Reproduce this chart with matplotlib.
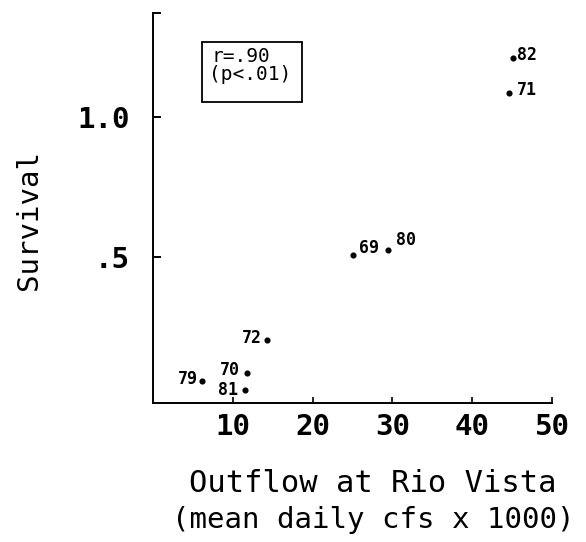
import matplotlib
matplotlib.use("Agg")
import matplotlib.pyplot as plt
from matplotlib.patches import Rectangle

# Outflow at Rio Vista (mean daily cfs x 1000) vs. survival, by year
years = ["69", "80", "82", "71", "72", "70", "79", "81"]
outflow = [25.0, 29.5, 45.1, 44.6, 14.25, 11.75, 6.1, 11.5]
survival = [0.507, 0.525, 1.211, 1.086, 0.204, 0.086, 0.057, 0.025]
# label side: +1 right of the point, -1 left of the point
label_side = [1, 1, 1, 1, -1, -1, -1, -1]

x_ticks = [10, 20, 30, 40, 50]
y_ticks = [0.5, 1.0]
y_tick_labels = [".5", "1.0"]

W, H, DPI = 586, 542, 100
fig = plt.figure(figsize=(W / DPI, H / DPI), dpi=DPI)
mono = "DejaVu Sans Mono"


def px(x, y):
    """pixel (from top-left) -> figure fraction"""
    return x / W, 1 - y / H


left, right, top, bottom = 153, 552, 13, 403
ax = fig.add_axes([left / W, 1 - bottom / H, (right - left) / W, (bottom - top) / H])
ax.set_xlim(0, 50)
ax.set_ylim(-0.021, 1.371)

for s in ("top", "right"):
    ax.spines[s].set_visible(False)
for s in ("left", "bottom"):
    ax.spines[s].set_linewidth(1.4)
    ax.spines[s].set_color("black")

ax.set_xticks(x_ticks)
ax.set_xticklabels([str(t) for t in x_ticks], fontfamily=mono, fontweight="bold", fontsize=21)
ax.set_yticks(y_ticks)
ax.set_yticklabels(y_tick_labels, fontfamily=mono, fontweight="bold", fontsize=21)
ax.set_yticks([1.371], minor=True)
ax.tick_params(axis="x", direction="in", length=4, width=1.2, pad=7)
ax.tick_params(axis="y", direction="in", length=6, width=1.4, pad=17)
ax.tick_params(axis="y", which="minor", direction="in", length=6, width=1.4)

ax.plot(outflow, survival, linestyle="none", marker="o", markersize=3.4,
        color="black", clip_on=False)

# year labels beside each point
offsets = {
    "69": (7, 7), "80": (8, 10), "82": (4, 3), "71": (8, 3),
    "72": (-5, 2), "70": (-7, 3), "79": (-4, 2), "81": (-7, 0),
}
for yr, xv, yv, side in zip(years, outflow, survival, label_side):
    dx, dy = offsets[yr]
    ax.annotate(yr, (xv, yv), xytext=(dx, dy), textcoords="offset pixels",
                ha="left" if side > 0 else "right", va="center",
                fontfamily=mono, fontweight="bold", fontsize=12)

# correlation box
bx0, by0, bx1, by1 = 202, 42, 302, 102
fx0, fy1 = px(bx0, by1)
fig.patches.append(Rectangle((fx0, fy1), (bx1 - bx0) / W, (by1 - by0) / H,
                             transform=fig.transFigure, fill=False,
                             edgecolor="black", linewidth=1.3))
fig.text(*px(211, 57), "r=.90", fontfamily=mono, fontsize=14, va="center", ha="left")
fig.text(*px(209, 75), "(p<.01)", fontfamily=mono, fontsize=14, va="center", ha="left")

# axis titles
fig.text(*px(29, 220), "Survival", rotation=90, fontfamily=mono, fontsize=21,
         ha="center", va="center")
fig.text(*px(373, 483), "Outflow at Rio Vista", fontfamily=mono, fontsize=22,
         ha="center", va="center")
fig.text(*px(373, 520), "(mean daily cfs x 1000)", fontfamily=mono, fontsize=21,
         ha="center", va="center")

fig.savefig("out.png", dpi=DPI, facecolor="white")
